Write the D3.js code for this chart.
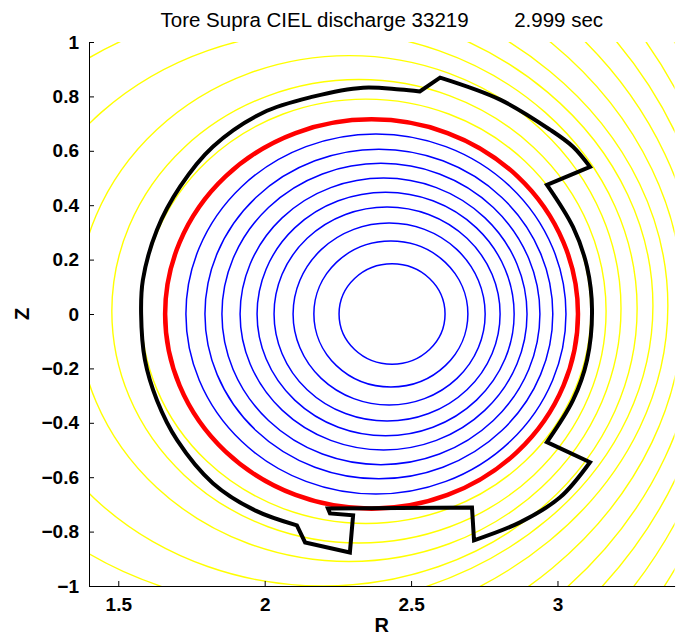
<!DOCTYPE html>
<html>
<head>
<meta charset="utf-8">
<script src="https://cdn.jsdelivr.net/npm/d3@7"></script>
<style>
  body { margin: 0; background: #fff; }
  text { font-family: "Liberation Sans", Arial, Helvetica, sans-serif; }
</style>
</head>
<body>
<div id="chart"></div>
<script>
// closed flux surfaces (blue): centre R and minor radius
var blueR0 = [2.435, 2.431, 2.425, 2.418, 2.413, 2.406, 2.397, 2.390, 2.380]
var blueA  = [0.181, 0.263, 0.328, 0.386, 0.439, 0.490, 0.543, 0.594, 0.649]
var blueK  = 1.02

// last closed flux surface (red)
var lcfsR0 = 2.365
var lcfsA  = 0.705
var lcfsK  = 1.015

// open flux surfaces (yellow): centre R, centre Z, horizontal / vertical half widths
var yellowR0 = [2.346, 2.322, 2.288, 2.200, 2.100, 2.000, 1.900, 1.800, 1.700, 1.600, 1.500]
var yellowZ0 = [0.01, 0.01, 0.02, 0.02, 0.03, 0.03, 0.03, 0.03, 0.03, 0.03, 0.03]
var yellowH  = [0.768, 0.844, 0.929, 1.072, 1.226, 1.377, 1.530, 1.685, 1.840, 1.995, 2.150]
var yellowV  = [0.780, 0.852, 0.930, 1.020, 1.110, 1.220, 1.364, 1.517, 1.680, 1.860, 2.070]

// first wall contour (black), starting at the lower-left limiter corner
var wallR = [2.110, 1.967, 1.823, 1.701, 1.632, 1.591, 1.578, 1.584, 1.632, 1.711, 1.823, 1.994, 2.165, 2.336,
             2.462, 2.530, 2.599, 2.804, 2.974, 3.053, 3.111, 2.964, 3.053, 3.101, 3.118, 3.101, 3.053, 2.964,
             3.111, 3.009, 2.872, 2.715, 2.708, 2.216, 2.223, 2.302, 2.291, 2.138]
var wallZ = [-0.777, -0.722, -0.622, -0.464, -0.317, -0.169, 0.000, 0.125, 0.309, 0.468, 0.615, 0.740, 0.799, 0.832,
             0.825, 0.818, 0.869, 0.788, 0.678, 0.615, 0.541, 0.475, 0.320, 0.173, 0.015, -0.169, -0.317, -0.471,
             -0.545, -0.674, -0.766, -0.832, -0.711, -0.715, -0.733, -0.740, -0.877, -0.840]
// indices where the wall has a sharp corner (everything between is a smooth arc)
var wallCorners = [0, 15, 16, 20, 21, 27, 28, 31, 32, 33, 34, 35, 36, 37]

var xTicks = [1.5, 2, 2.5, 3]
var yTicks = [-1, -0.8, -0.6, -0.4, -0.2, 0, 0.2, 0.4, 0.6, 0.8, 1]

var width = 677, height = 637
var margin = {top: 42, right: 2, bottom: 51, left: 89}

var svg = d3.select('#chart').append('svg')
    .attr('width', width)
    .attr('height', height)

var xScale = d3.scaleLinear().domain([1.4, 3.4]).range([margin.left, margin.left + 2 * 292.8])
var yScale = d3.scaleLinear().domain([-1, 1]).range([height - margin.bottom, margin.top])

svg.append('clipPath').attr('id', 'plotclip')
    .append('rect')
    .attr('x', xScale(1.4))
    .attr('y', yScale(1))
    .attr('width', xScale(3.4) - xScale(1.4))
    .attr('height', yScale(-1) - yScale(1))

var plot = svg.append('g').attr('clip-path', 'url(#plotclip)')

function rx(r0, h) { return xScale(r0 + h) - xScale(r0) }
function ry(z0, v) { return yScale(z0) - yScale(z0 + v) }

// yellow open surfaces
plot.selectAll('ellipse.open')
    .data(yellowR0)
    .enter().append('ellipse')
    .attr('class', 'open')
    .attr('cx', function(d) { return xScale(d) })
    .attr('cy', function(d, i) { return yScale(yellowZ0[i]) })
    .attr('rx', function(d, i) { return rx(d, yellowH[i]) })
    .attr('ry', function(d, i) { return ry(yellowZ0[i], yellowV[i]) })
    .attr('fill', 'none')
    .attr('stroke', '#ffff00')
    .attr('stroke-width', 1.4)

// blue closed surfaces
plot.selectAll('ellipse.closed')
    .data(blueR0)
    .enter().append('ellipse')
    .attr('class', 'closed')
    .attr('cx', function(d) { return xScale(d) })
    .attr('cy', yScale(0))
    .attr('rx', function(d, i) { return rx(d, blueA[i]) })
    .attr('ry', function(d, i) { return ry(0, blueA[i] * blueK) })
    .attr('fill', 'none')
    .attr('stroke', '#0000ff')
    .attr('stroke-width', 1.5)

// red lcfs
plot.append('ellipse')
    .attr('cx', xScale(lcfsR0))
    .attr('cy', yScale(0))
    .attr('rx', rx(lcfsR0, lcfsA))
    .attr('ry', ry(0, lcfsA * lcfsK))
    .attr('fill', 'none')
    .attr('stroke', '#ff0000')
    .attr('stroke-width', 4.5)

// wall: smooth arcs between corners, joined into one closed path
var arcLine = d3.line()
    .x(function(d) { return xScale(wallR[d]) })
    .y(function(d) { return yScale(wallZ[d]) })
    .curve(d3.curveCatmullRom.alpha(0.5))

var n = wallR.length
var wallPath = ''
for (var c = 0; c < wallCorners.length; c++) {
    var from = wallCorners[c]
    var to = c + 1 < wallCorners.length ? wallCorners[c + 1] : n
    var idx = []
    for (var k = from; k <= to; k++) idx.push(k % n)
    var d = arcLine(idx)
    if (c > 0) d = d.replace(/^M[^A-Za-z]*/, '')
    wallPath += d
}
wallPath += 'Z'

plot.append('path')
    .attr('d', wallPath)
    .attr('fill', 'none')
    .attr('stroke', '#000')
    .attr('stroke-width', 4)
    .attr('stroke-linejoin', 'miter')

// axes
var fmt = function(d) { return d < 0 ? '\u2212' + Math.abs(d) : '' + d }
var xAxis = d3.axisBottom(xScale).tickValues(xTicks).tickFormat(fmt).tickSizeInner(-5).tickSizeOuter(0).tickPadding(12)
var yAxis = d3.axisLeft(yScale).tickValues(yTicks).tickFormat(fmt).tickSizeInner(-5).tickSizeOuter(0).tickPadding(10)

svg.append('g')
    .attr('transform', 'translate(0,' + yScale(-1) + ')')
    .call(xAxis)
svg.append('g')
    .attr('transform', 'translate(' + xScale(1.4) + ',0)')
    .call(yAxis)

svg.selectAll('.tick text')
    .attr('font-size', 19)
    .attr('font-weight', 'bold')
    .attr('font-family', '"Liberation Sans", Arial, sans-serif')
    .attr('fill', '#000')
svg.selectAll('.domain, .tick line').attr('stroke', '#000').attr('stroke-width', 1)

// labels
svg.append('text')
    .attr('x', (xScale(1.4) + xScale(3.4)) / 2)
    .attr('y', 632)
    .attr('text-anchor', 'middle')
    .attr('font-size', 20)
    .attr('font-weight', 'bold')
    .text('R')

svg.append('text')
    .attr('transform', 'translate(29,' + yScale(0) + ') rotate(-90)')
    .attr('text-anchor', 'middle')
    .attr('font-size', 20)
    .attr('font-weight', 'bold')
    .text('Z')

svg.append('text')
    .attr('x', (xScale(1.4) + xScale(3.4)) / 2)
    .attr('y', 27)
    .attr('text-anchor', 'middle')
    .attr('font-size', 20.5)
    .style('white-space', 'pre')
    .attr('xml:space', 'preserve')
    .text('Tore Supra CIEL discharge 33219        2.999 sec')
</script>
</body>
</html>
